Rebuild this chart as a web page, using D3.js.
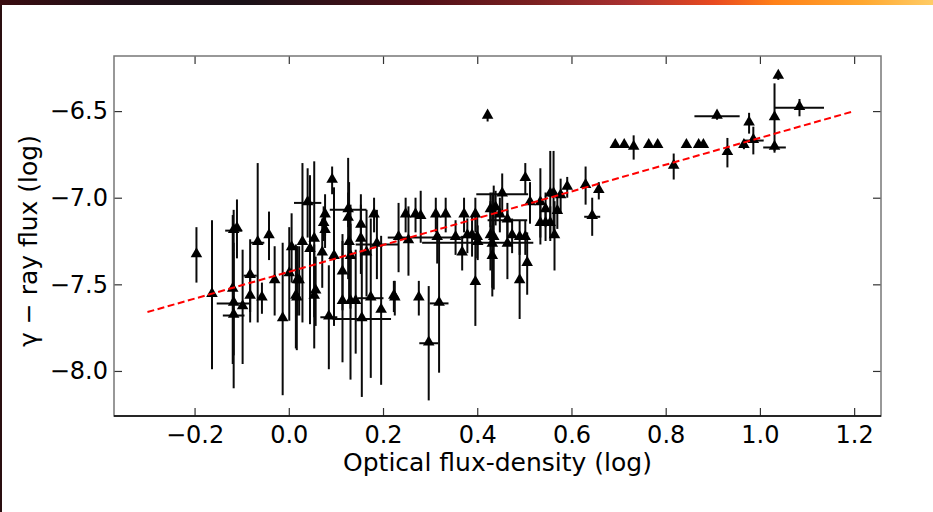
<!DOCTYPE html>
<html>
<head>
<meta charset="utf-8">
<script src="https://cdn.jsdelivr.net/npm/d3@7"></script>
<style>
  html, body { margin: 0; padding: 0; background: #fff; }
  svg { display: block; }
  text { font-family: "DejaVu Sans", sans-serif; }
</style>
</head>
<body>
<svg id="chart" width="933" height="512"></svg>
<script>
// ---- data ----
const xVals = [-0.196,-0.163,-0.117,-0.110,-0.119,-0.117,-0.117,-0.098,-0.082,-0.082,-0.066,-0.057,-0.042,-0.030,-0.013,0.001,0.006,0.017,0.018,
  0.040,0.092,0.077,0.074,0.077,0.126,0.126,0.153,0.153,0.181,0.029,0.045,0.054,0.071,0.096,0.128,0.131,0.165,0.187,0.233,
  0.022,0.015,0.054,0.057,0.114,0.114,0.131,0.142,0.174,0.196,0.223,0.085,0.155,
  0.248,0.269,0.280,0.312,0.333,0.372,0.396,0.254,0.315,0.319,0.354,0.368,0.379,0.389,0.400,0.401,0.396,0.225,0.276,0.297,
  0.422,0.428,0.439,0.448,0.464,0.428,0.435,0.432,0.432,0.453,0.502,0.474,0.490,0.502,0.464,0.506,0.490,
  0.512,0.534,0.545,0.555,0.562,0.577,0.570,0.534,0.545,0.555,0.564,0.591,0.630,0.644,0.658,
  0.693,0.712,0.732,0.764,0.783,0.817,0.844,0.870,0.880,0.909,0.931,0.966,0.977,0.986,1.031,1.031,1.039,1.084];
const yVals = [-7.33,-7.56,-7.19,-7.18,-7.53,-7.61,-7.68,-7.63,-7.45,-7.57,-7.26,-7.58,-7.22,-7.48,-7.70,-7.44,-7.29,-7.58,-7.48,
  -7.03,-6.90,-7.10,-7.15,-7.19,-7.07,-7.12,-7.16,-7.24,-7.10,-7.26,-7.30,-7.24,-7.32,-7.34,-7.26,-7.34,-7.32,-7.27,-7.23,
  -7.48,-7.57,-7.57,-7.54,-7.43,-7.60,-7.60,-7.60,-7.58,-7.65,-7.57,-7.69,-7.70,
  -7.10,-7.10,-7.11,-7.10,-7.10,-7.10,-7.10,-7.25,-7.23,-7.61,-7.23,-7.32,-7.22,-7.22,-7.23,-7.26,-7.49,-7.58,-7.58,-7.84,
  -6.53,-7.07,-7.06,-7.10,-7.13,-7.22,-7.23,-7.27,-7.34,-6.98,-6.89,-7.22,-7.23,-7.23,-7.27,-7.38,-7.48,
  -7.03,-7.03,-7.07,-6.98,-6.98,-6.99,-7.08,-7.15,-7.15,-7.15,-7.22,-6.94,-6.93,-7.11,-6.96,
  -6.70,-6.70,-6.71,-6.70,-6.70,-6.82,-6.70,-6.70,-6.70,-6.53,-6.74,-6.70,-6.57,-6.67,-6.71,-6.54,-6.30,-6.48];
const xErr = [0,0,0.018,0,0,0.036,0.023,0,0.014,0,0.014,0,0,0,0,0,0,0,0,
  0.029,0,0,0,0,0.039,0,0,0,0,0,0,0,0,0,0,0,0,0.045,0.023,
  0,0,0,0,0,0,0,0,0.027,0,0,0.018,0.062,
  0,0,0,0,0,0,0,0,0.056,0.02,0,0,0,0,0,0.118,0,0,0,0.02,
  0,0,0,0,0.042,0,0,0,0,0.055,0,0,0,0,0,0,0,
  0,0,0,0,0,0,0,0,0,0,0,0,0,0.017,0,
  0,0,0,0,0,0,0,0,0,0.048,0,0,0,0.022,0.024,0,0,0.052];
const yErr = [0.16,0.43,0.12,0.17,0.43,0.30,0.42,0.33,0.21,0.15,0.46,0.09,0.14,0.20,0.44,0.27,0.20,0.30,0.20,
  0.20,0.08,0.12,0.10,0.10,0.10,0.35,0.18,0.20,0.10,0.46,0.43,0.45,0.20,0.40,0.35,0.30,0.25,0.20,0.20,
  0.20,0.30,0.30,0.20,0.22,0.35,0.45,0.30,0.46,0.43,0.09,0.30,0.45,
  0.10,0.10,0.15,0.10,0.10,0.10,0.10,0.20,0.15,0.40,0.10,0.10,0.10,0.12,0.12,0.10,0.25,0.10,0.10,0.33,
  0.03,0.10,0.10,0.10,0.10,0.20,0.30,0.30,0.18,0.12,0.09,0.10,0.10,0.10,0.20,0.18,0.22,
  0.12,0.20,0.10,0.25,0.25,0.10,0.10,0.12,0.10,0.10,0.20,0.06,0.11,0.11,0.05,
  0,0,0.07,0,0,0.075,0,0,0,0.02,0.085,0.02,0.06,0.08,0.02,0.20,0.02,0.05];
const fitX = [-0.3, 1.2];
const fitY = [-7.66, -6.50];
const xTicks = [-0.2, 0.0, 0.2, 0.4, 0.6, 0.8, 1.0, 1.2];
const yTicks = [-8.0, -7.5, -7.0, -6.5];
const xLabel = "Optical flux-density (log)";
const yLabel = "γ − ray flux (log)";

// ---- layout ----
const svg = d3.select("#chart");
const L = 114, R = 881, T = 56, B = 416;

// slide decoration: gradient bar at top and dark left border
const defs = svg.append("defs");
const grad = defs.append("linearGradient").attr("id", "topbar");
[[0,"#3a0c10"],[0.13,"#201018"],[0.26,"#1a1218"],[0.45,"#501018"],[0.57,"#7a2020"],[0.67,"#a83030"],
 [0.765,"#e84a20"],[0.83,"#ff8018"],[0.925,"#ffa830"],[1,"#ffcc66"]].forEach(([o,c]) =>
  grad.append("stop").attr("offset", o).attr("stop-color", c));
svg.append("rect").attr("x", 0).attr("y", 0).attr("width", 933).attr("height", 5).attr("fill", "url(#topbar)");
svg.append("rect").attr("x", 0).attr("y", 5).attr("width", 2).attr("height", 507).attr("fill", "#2a0e10");

const x = d3.scaleLinear().domain([-0.371, 1.257]).range([L, R]);
const y = d3.scaleLinear().domain([-8.26, -6.182]).range([B, T]);
const fmt = d3.format(".1f");

const data = xVals.map((v, i) => ({x: v, y: yVals[i], xe: xErr[i], ye: yErr[i]}));

const plot = svg.append("g");

// error bars
const eb = plot.append("g").attr("stroke", "#0a0a0a").attr("stroke-width", 2);
eb.selectAll("line.ye").data(data.filter(d => d.ye > 0)).join("line")
  .attr("x1", d => x(d.x)).attr("x2", d => x(d.x))
  .attr("y1", d => y(d.y - d.ye)).attr("y2", d => y(d.y + d.ye));
eb.selectAll("line.xe").data(data.filter(d => d.xe > 0)).join("line")
  .attr("x1", d => x(d.x - d.xe)).attr("x2", d => x(d.x + d.xe))
  .attr("y1", d => y(d.y)).attr("y2", d => y(d.y));

// markers (triangle up)
const tri = d3.symbol().type(d3.symbolTriangle).size(58);
plot.append("g").selectAll("path").data(data).join("path")
  .attr("transform", d => `translate(${x(d.x)},${y(d.y) - 1})`)
  .attr("d", tri).attr("fill", "#000");

// fit line
plot.append("path")
  .attr("d", d3.line().x(d => x(d[0])).y(d => y(d[1]))(fitX.map((v, i) => [v, fitY[i]])))
  .attr("fill", "none").attr("stroke", "#ff0000").attr("stroke-width", 2)
  .attr("stroke-dasharray", "7,3.5");

// axes
function styleAxis(g) {
  g.select(".domain").remove();
  g.selectAll(".tick line").attr("stroke", "#333").attr("stroke-width", 1.2);
  g.selectAll(".tick text").attr("fill", "#000").style("font-size", "24px")
    .style("font-family", "'DejaVu Sans', sans-serif");
}
svg.append("g").attr("transform", `translate(0,${B})`)
  .call(d3.axisBottom(x).tickValues(xTicks).tickFormat(fmt).tickSizeInner(-8).tickSizeOuter(0).tickPadding(10))
  .call(styleAxis);
svg.append("g").attr("transform", `translate(0,${T})`)
  .call(d3.axisTop(x).tickValues(xTicks).tickFormat("").tickSizeInner(-8).tickSizeOuter(0))
  .call(styleAxis);
svg.append("g").attr("transform", `translate(${L},0)`)
  .call(d3.axisLeft(y).tickValues(yTicks).tickFormat(fmt).tickSizeInner(-8).tickSizeOuter(0).tickPadding(6))
  .call(styleAxis);
svg.append("g").attr("transform", `translate(${R},0)`)
  .call(d3.axisRight(y).tickValues(yTicks).tickFormat("").tickSizeInner(-8).tickSizeOuter(0))
  .call(styleAxis);

// frame
svg.append("rect").attr("x", L).attr("y", T).attr("width", R - L).attr("height", B - T)
  .attr("fill", "none").attr("stroke", "#777").attr("stroke-width", 1.5);
svg.append("line").attr("x1", L).attr("x2", R).attr("y1", B).attr("y2", B)
  .attr("stroke", "#000").attr("stroke-width", 1.3);

// labels
svg.append("text").attr("x", (L + R) / 2).attr("y", 471).attr("text-anchor", "middle")
  .style("font-size", "25px").attr("fill", "#000").text(xLabel);
svg.append("text").attr("transform", `translate(37,${(T + B) / 2 + 5}) rotate(-90)`).attr("text-anchor", "middle")
  .style("font-size", "25px").attr("fill", "#000").text(yLabel);
</script>
</body>
</html>
